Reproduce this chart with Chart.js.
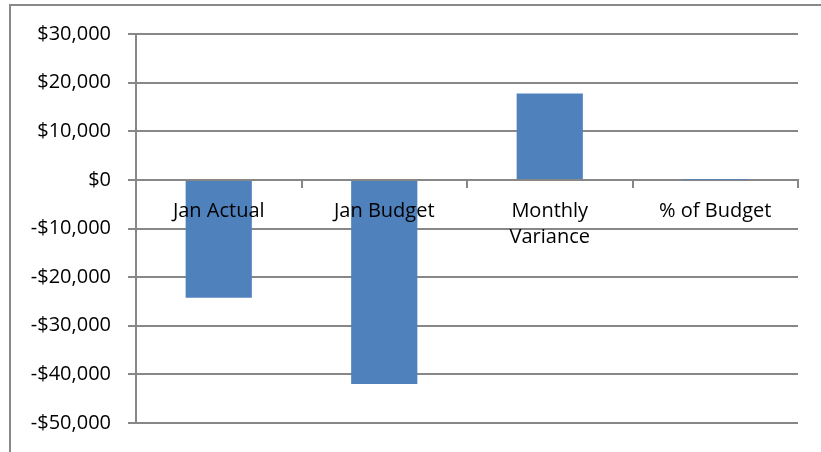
<!DOCTYPE html>
<html><head><meta charset="utf-8">
<script src="https://cdn.jsdelivr.net/npm/chart.js@4"></script>
<style>
html,body{margin:0;padding:0;background:#fff;overflow:hidden}
#wrap{position:relative;width:821px;height:452px;overflow:hidden}
#frame{position:absolute;left:9px;top:4px;width:900px;height:600px;border-left:2px solid #898989;border-top:2px solid #898989}
canvas{position:absolute;left:0;top:0}
</style></head><body>
<div id="wrap"><div id="frame"></div><canvas id="c" width="821" height="452"></canvas></div>
<script>
const categories = [['Jan Actual'], ['Jan Budget'], ['Monthly', 'Variance'], ['% of Budget']];
const values = [-24250, -42000, 17750, 0.58];
const yMin = -50000;
const yMax = 30000;
const yStep = 10000;

const gridColor = '#878787';
function money(v) {
  const s = '$' + Math.abs(v).toLocaleString('en-US');
  return v < 0 ? '-' + s : s;
}

Chart.defaults.font.family = "'Open Sans', sans-serif";
Chart.defaults.color = '#000';

new Chart(document.getElementById('c'), {
  type: 'bar',
  data: {
    labels: categories,
    datasets: [{
      data: values,
      backgroundColor: '#4f81bd',
      borderWidth: 0,
      categoryPercentage: 1,
      barPercentage: 0.4
    }]
  },
  options: {
    responsive: false,
    animation: false,
    layout: { padding: { top: 34, right: 23, bottom: 25, left: 0 } },
    plugins: { legend: { display: false }, tooltip: { enabled: false } },
    scales: {
      x: {
        position: { y: 0 },
        offset: true,
        grid: { display: true, drawOnChartArea: false, drawTicks: true, tickLength: 7, offset: true, color: gridColor, lineWidth: 2 },
        border: { display: true, color: gridColor, width: 2 },
        ticks: { z: 1, color: '#000', font: { size: 20, lineHeight: 1.3 }, padding: 11, maxRotation: 0, autoSkip: false }
      },
      y: {
        min: yMin,
        max: yMax,
        ticks: { stepSize: yStep, callback: v => money(v), padding: 17, font: { size: 20 }, color: '#000' },
        grid: { color: gridColor, lineWidth: 2, tickLength: 8 },
        border: { display: true, color: gridColor, width: 2 },
        afterFit(s) { s.width = 136; }
      }
    }
  }
});
</script>
</body></html>
